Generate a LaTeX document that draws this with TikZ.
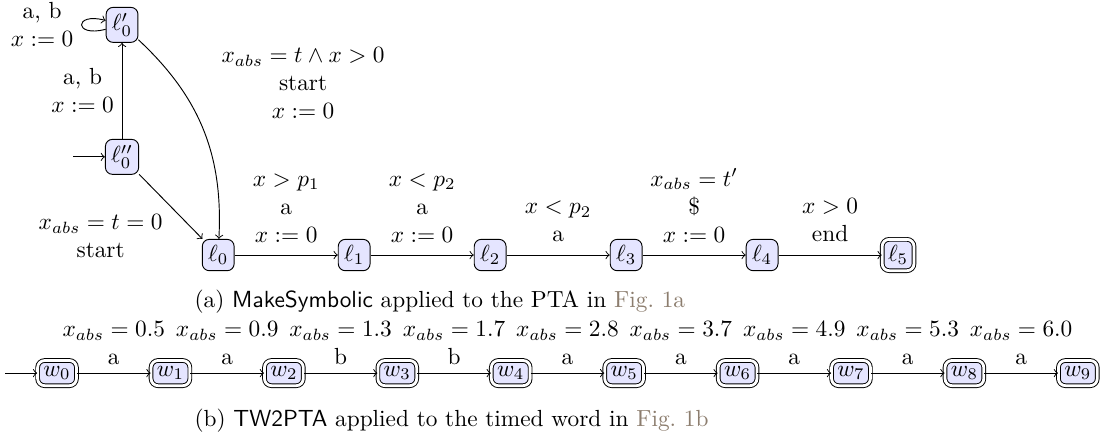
\documentclass[tikz,border=0pt]{standalone}
\usepackage{tikz}
\usetikzlibrary{arrows.meta,positioning}
\usepackage{amsmath,amssymb}
\definecolor{figref}{RGB}{140,125,110}
\tikzset{
  loc/.style={draw, rounded corners=3pt, fill=blue!10, inner sep=2.5pt},
  accloc/.style={loc, double, double distance=1.2pt},
  lbl/.style={align=center},
}

\begin{document}
\begin{tikzpicture}[>=to]
  \useasboundingbox (0,0) rectangle (16.72,6.575);
  % (a) symbolic PTA
  \node[loc] (l0pp) at (1.84,4.21) {$\ell''_0$};
  \node[loc] (l0p) at (1.84,6.20) {$\ell'_0$};
  \node[loc] (l0) at (3.29,2.73) {$\ell_0$};
  \node[loc] (l1) at (5.34,2.73) {$\ell_1$};
  \node[loc] (l2) at (7.39,2.73) {$\ell_2$};
  \node[loc] (l3) at (9.44,2.73) {$\ell_3$};
  \node[loc] (l4) at (11.49,2.73) {$\ell_4$};
  \node[accloc] (l5) at (13.54,2.73) {$\ell_5$};
  \coordinate[left=0.48cm of l0pp] (inita);
  \draw[->] (inita) -- (l0pp);
  \draw[->] (l0pp) -- node[left, lbl] {a, b\\$x := 0$} (l0p);
  \draw[->] (l0p) to[loop left] node[left, lbl] {a, b\\$x := 0$} (l0p);
  \draw[->] (l0pp) -- node[below left, pos=0.5, lbl] {$x_{abs} = t = 0$\\start} (l0);
  \draw[->] (l0p) to[bend left=25] node[pos=0.25, right=0.54cm, lbl] {$x_{abs} = t \land x > 0$\\start\\$x := 0$} (l0);
  \draw[->] (l0) -- node[above=2pt, lbl] {$x > p_1$\\a\\$x := 0$} (l1);
  \draw[->] (l1) -- node[above=2pt, lbl] {$x < p_2$\\a\\$x := 0$} (l2);
  \draw[->] (l2) -- node[above=2pt, lbl] {$x < p_2$\\a} (l3);
  \draw[->] (l3) -- node[above=2pt, lbl] {$x_{abs} = t'$\\\$\\$x := 0$} (l4);
  \draw[->] (l4) -- node[above=2pt, lbl] {$x > 0$\\end} (l5);
  \node[anchor=west] (capa) at (2.81,2.02) {(a) \textsf{MakeSymbolic} applied to the PTA in \textcolor{figref}{Fig.~1a}};

  % (b) timed word as PTA
  \node[accloc] (w0) at (0.86,0.95) {$w_0$};
  \node[accloc] (w1) at (2.57,0.95) {$w_1$};
  \node[accloc] (w2) at (4.28,0.95) {$w_2$};
  \node[accloc] (w3) at (5.99,0.95) {$w_3$};
  \node[accloc] (w4) at (7.70,0.95) {$w_4$};
  \node[accloc] (w5) at (9.41,0.95) {$w_5$};
  \node[accloc] (w6) at (11.12,0.95) {$w_6$};
  \node[accloc] (w7) at (12.83,0.95) {$w_7$};
  \node[accloc] (w8) at (14.54,0.95) {$w_8$};
  \node[accloc] (w9) at (16.25,0.95) {$w_9$};
  \coordinate (initb) at (0.08,0.95);
  \draw[->] (initb) -- (w0);
  \draw[->] (w0) -- node[above, lbl] {$x_{abs} = 0.5$\\a} (w1);
  \draw[->] (w1) -- node[above, lbl] {$x_{abs} = 0.9$\\a} (w2);
  \draw[->] (w2) -- node[above, lbl] {$x_{abs} = 1.3$\\b} (w3);
  \draw[->] (w3) -- node[above, lbl] {$x_{abs} = 1.7$\\b} (w4);
  \draw[->] (w4) -- node[above, lbl] {$x_{abs} = 2.8$\\a} (w5);
  \draw[->] (w5) -- node[above, lbl] {$x_{abs} = 3.7$\\a} (w6);
  \draw[->] (w6) -- node[above, lbl] {$x_{abs} = 4.9$\\a} (w7);
  \draw[->] (w7) -- node[above, lbl] {$x_{abs} = 5.3$\\a} (w8);
  \draw[->] (w8) -- node[above, lbl] {$x_{abs} = 6.0$\\a} (w9);
  \node[anchor=west] (capb) at (2.81,0.24) {(b) \textsf{TW2PTA} applied to the timed word in \textcolor{figref}{Fig.~1b}};
\end{tikzpicture}
\end{document}
